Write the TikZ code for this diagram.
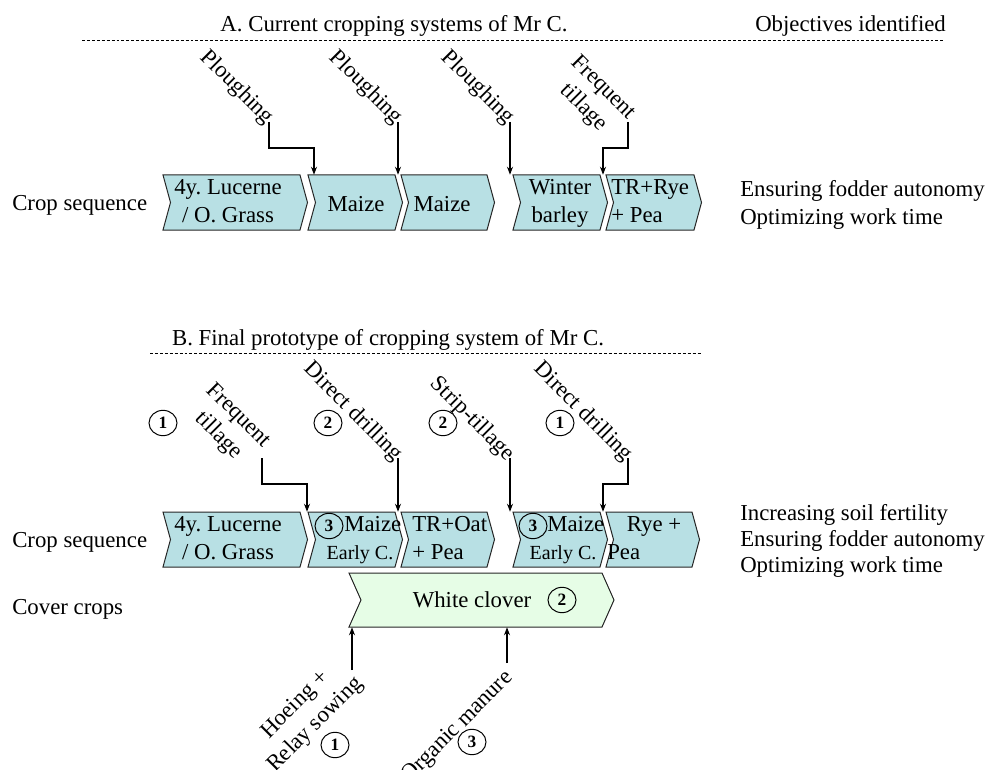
\documentclass[tikz,border=0pt]{standalone}
\usepackage{fontspec}
\setmainfont{Liberation Serif}
\usetikzlibrary{arrows.meta,shapes.geometric,fit}
\definecolor{cropfill}{RGB}{184,224,228}
\definecolor{coverfill}{RGB}{230,253,230}
\frenchspacing
% #1 style, #2 name, #3 x left, #4 x right, #5 y top, #6 y bottom, #7 depth
\newcommand{\chev}[7]{%
  \draw[#1] (#3,#5) -- (#4,#5) -- ({#4+#7},{(#5+#6)/2}) -- (#4,#6) -- (#3,#6) -- ({#3+#7},{(#5+#6)/2}) -- cycle;
  \node[fit={(#3,#5) (#4,#6)}, inner sep=0pt] (#2) {};
}
\begin{document}
\begin{tikzpicture}[x=0.75pt,y=-0.75pt,
  every node/.style={inner sep=0pt},
  font=\fontsize{17.1}{21}\selectfont\frenchspacing,
  chevbox/.style={draw=black!85, line width=0.75pt, fill=cropfill},
  coverbox/.style={chevbox, fill=coverfill},
  arr/.style={-{Stealth[length=6pt,width=4.5pt]}, line width=0.9pt},
  lab/.style={rotate=-45, align=center},
  ulab/.style={rotate=45, align=center},
  num/.style={ellipse, draw, line width=0.75pt, minimum width=21pt, minimum height=19pt, font=\fontsize{13}{13}\selectfont\bfseries},
  sepline/.style={dash pattern=on 2.2pt off 1.5pt, line width=0.7pt},
  smalltxt/.style={font=\fontsize{15}{18}\selectfont\frenchspacing}
]
\useasboundingbox (0,0) rectangle (985,770);

% ---------------- Section A ----------------
\node[anchor=base] (titleA) at (394,32) {A. Current cropping systems of Mr C.};
\node[anchor=base west] (objA) at (755,32) {Objectives identified};
\draw[sepline] (82,40) -- (943,40);

\node[anchor=base west] (csA) at (12,210) {Crop sequence};

\chev{chevbox}{cA1}{163}{300}{175}{230}{7.5}
\chev{chevbox}{cA2}{308}{395}{175}{230}{7.5}
\chev{chevbox}{cA3}{401}{487}{175}{230}{7.5}
\chev{chevbox}{cA4}{513}{600}{175}{230}{7.5}
\chev{chevbox}{cA5}{606}{694}{175}{230}{7.5}

\node[anchor=base] (a1t1) at (228,195) {4y. Lucerne};
\node[anchor=base] (a1t2) at (228,223) {/ O. Grass};
\node[anchor=base] (a2t) at (356,211) {Maize};
\node[anchor=base] (a3t) at (442,211) {Maize};
\node[anchor=base] (a4t1) at (560,195) {Winter};
\node[anchor=base] (a4t2) at (560,223) {barley};
\node[anchor=base west] (a5t1) at (611,195) {TR+Rye};
\node[anchor=base west] (a5t2) at (611,223) {+ Pea};

\node[anchor=base west] (oA1) at (740,197) {Ensuring fodder autonomy};
\node[anchor=base west] (oA2) at (740,224) {Optimizing work time};

\coordinate (sA1) at (269,122);
\coordinate (sA2) at (398,122);
\coordinate (sA3) at (510,122);
\coordinate (sA4) at (628,122);
\coordinate (xA1) at (314,0);
\coordinate (xA4) at (603,0);

\node[lab, anchor=east] (lA1) at (270,121) {Ploughing};
\node[lab, anchor=east] (lA2) at (399,121) {Ploughing};
\node[lab, anchor=east] (lA3) at (511,121) {Ploughing};
\node[lab, anchor=east] (lA4) at (622,127) {Frequent\\tillage};

\coordinate (tA1) at (xA1 |- cA2.north);
\coordinate (tA2) at (sA2 |- cA3.north);
\coordinate (tA3) at (sA3 |- cA4.north);
\coordinate (tA4) at (xA4 |- cA5.north);
\draw[arr] (sA1) -- ++(0,26) -| (tA1);
\draw[arr] (sA2) -- (tA2);
\draw[arr] (sA3) -- (tA3);
\draw[arr] (sA4) -- ++(0,26) -| (tA4);

% ---------------- Section B ----------------
\node[anchor=base] (titleB) at (388,345) {B. Final prototype of cropping system of Mr C.};
\draw[sepline] (150,353) -- (702,353);

\node[anchor=base west] (csB) at (12,547) {Crop sequence};
\node[anchor=base west] (ccB) at (12,614) {Cover crops};

\chev{chevbox}{cB1}{163}{300}{512}{567}{7.5}
\chev{chevbox}{cB2}{308}{395}{512}{567}{7.5}
\chev{chevbox}{cB3}{401}{487}{512}{567}{7.5}
\chev{chevbox}{cB4}{513}{600}{512}{567}{7.5}
\chev{chevbox}{cB5}{606}{692}{512}{567}{7.5}
\chev{coverbox}{wc}{349}{602}{573}{627}{12}

\node[anchor=base] (b1t1) at (228,531) {4y. Lucerne};
\node[anchor=base] (b1t2) at (228,559) {/ O. Grass};
\node[num] (nB2) at (329,526) {3};
\node[anchor=base west] (b2t1) at (344,531) {Maize};
\node[anchor=base, smalltxt] (b2t2) at (360,559) {Early C.};
\node[anchor=base west] (b3t1) at (412,531) {TR+Oat};
\node[anchor=base west] (b3t2) at (412,559) {+ Pea};
\node[num] (nB4) at (533,526) {3};
\node[anchor=base west] (b4t1) at (547,531) {Maize};
\node[anchor=base, smalltxt] (b4t2) at (563,559) {Early C.};
\node[anchor=base] (b5t1) at (654,531) {Rye +};
\node[anchor=base west] (b5t2) at (607,559) {Pea};

\node[anchor=base] (wct) at (472,607) {White clover};
\node[num] (nwc) at (562,600) {2};

\node[anchor=base west] (oB1) at (740,520) {Increasing soil fertility};
\node[anchor=base west] (oB2) at (740,546) {Ensuring fodder autonomy};
\node[anchor=base west] (oB3) at (740,572) {Optimizing work time};

\coordinate (sB1) at (262,458);
\coordinate (sB2) at (398,458);
\coordinate (sB3) at (510,458);
\coordinate (sB4) at (628,458);
\coordinate (xB1) at (307,0);
\coordinate (xB4) at (603,0);

\node[lab, anchor=east] (lB1) at (257,455) {Frequent\\tillage};
\node[lab, anchor=east] (lB2) at (399,458) {Direct drilling};
\node[lab, anchor=east] (lB3) at (511,458) {Strip-tillage};
\node[lab, anchor=east] (lB4) at (629,458) {Direct drilling};
\node[num] (nL1) at (163,423) {1};
\node[num] (nL2) at (328,423) {2};
\node[num] (nL3) at (443,423) {2};
\node[num] (nL4) at (560,423) {1};

\coordinate (tB1) at (xB1 |- cB2.north);
\coordinate (tB2) at (sB2 |- cB3.north);
\coordinate (tB3) at (sB3 |- cB4.north);
\coordinate (tB4) at (xB4 |- cB5.north);
\draw[arr] (sB1) -- ++(0,26) -| (tB1);
\draw[arr] (sB2) -- (tB2);
\draw[arr] (sB3) -- (tB3);
\draw[arr] (sB4) -- ++(0,26) -| (tB4);

% bottom inputs
\coordinate (sC1) at (352,670);
\coordinate (sC2) at (507,663);
\node[ulab, anchor=east] (lC1) at (350,671) {Hoeing +\\Relay sowing};
\node[ulab, anchor=east] (lC2) at (510,675) {Organic manure};
\node[num] (nC1) at (335,745) {1};
\node[num] (nC2) at (472,742) {3};
\coordinate (tC1) at (sC1 |- wc.south);
\coordinate (tC2) at (sC2 |- wc.south);
\draw[arr] (sC1) -- (tC1);
\draw[arr] (sC2) -- (tC2);
\end{tikzpicture}
\end{document}
